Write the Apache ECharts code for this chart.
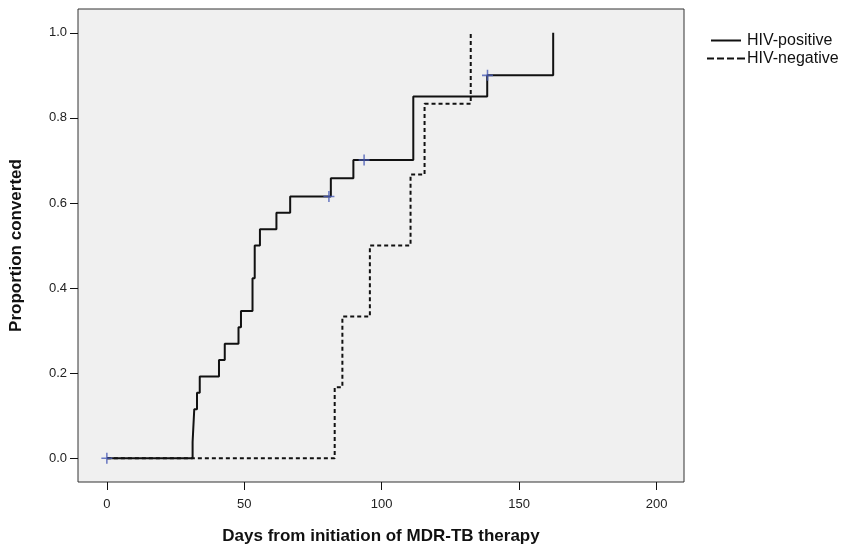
<!DOCTYPE html>
<html>
<head>
<meta charset="utf-8">
<script src="https://cdn.jsdelivr.net/npm/echarts@6/dist/echarts.min.js"></script>
<style>html,body{margin:0;padding:0;background:#fff;}#c{width:865px;height:550px;}</style>
</head>
<body>
<div id="c"></div>
<script>
var posDays = [0, 31.2, 31.8, 32.8, 33.8, 40.8, 42.9, 47.9, 48.8, 53.0, 53.8, 55.7, 61.7, 66.7, 81.5, 89.7, 111.5, 138.4, 162.4];
var posValues = [0, 0.038, 0.115, 0.154, 0.192, 0.231, 0.269, 0.308, 0.346, 0.423, 0.5, 0.538, 0.577, 0.615, 0.658, 0.701, 0.85, 0.9, 1.0];
var negDays = [0, 82.9, 85.7, 95.7, 110.5, 115.6, 132.4];
var negValues = [0, 0.167, 0.333, 0.5, 0.667, 0.833, 1.0];
var censorDays = [0, 80.8, 93.6, 138.5];
var censorValues = [0, 0.615, 0.701, 0.9];
var xTicks = [0, 50, 100, 150, 200];
var yTicks = [0, 0.2, 0.4, 0.6, 0.8, 1.0];
var seriesNames = ['HIV-positive', 'HIV-negative'];

function zip(a, b) { return a.map(function (v, i) { return [v, b[i]]; }); }

var chart = echarts.init(document.getElementById('c'), null, { renderer: 'canvas' });
var font = 'Liberation Sans, Arial, sans-serif';
chart.setOption({
  animation: false,
  textStyle: { fontFamily: font },
  grid: {
    left: 77, right: 181, top: 9, bottom: 63,
    show: true, backgroundColor: '#f0f0f0', borderColor: '#333', borderWidth: 1
  },
  legend: {
    data: [
      { name: seriesNames[0], icon: 'path://M8,0h30v2h-30z' },
      { name: seriesNames[1], icon: 'path://M0,0h7v2h-7z M10,0h7v2h-7z M20,0h7v2h-7z M30,0h8v2h-8z' }
    ],
    orient: 'vertical',
    left: 702, top: 27,
    itemWidth: 38, itemHeight: 2, itemGap: 1,
    itemStyle: { color: '#111' },
    textStyle: { fontSize: 16, color: '#111', fontFamily: font, lineHeight: 17, padding: [0, 0, 0, -3] }
  },
  xAxis: {
    type: 'value', min: -10.5, max: 210,
    name: 'Days from initiation of MDR-TB therapy',
    nameLocation: 'middle', nameGap: 46,
    nameTextStyle: { fontSize: 17, fontWeight: 'bold', color: '#111', fontFamily: font },
    axisLine: { show: false, onZero: false },
    splitLine: { show: false },
    axisTick: { show: true, customValues: xTicks, length: 8, lineStyle: { color: '#111', width: 1 } },
    axisLabel: { customValues: xTicks, fontSize: 13, color: '#222', margin: 16, fontFamily: font }
  },
  yAxis: {
    type: 'value', min: -0.056, max: 1.056,
    name: 'Proportion converted',
    nameLocation: 'middle', nameGap: 53,
    nameTextStyle: { fontSize: 17, fontWeight: 'bold', color: '#111', fontFamily: font },
    axisLine: { show: false, onZero: false },
    splitLine: { show: false },
    axisTick: { show: true, customValues: yTicks, length: 8, lineStyle: { color: '#111', width: 1 } },
    axisLabel: { customValues: yTicks, fontSize: 13, color: '#222', margin: 11, fontFamily: font,
      formatter: function (v) { return v.toFixed(1); } }
  },
  series: [
    {
      name: 'HIV-negative', type: 'line', step: 'end', symbol: 'none', z: 2,
      data: zip(negDays, negValues),
      lineStyle: { color: '#111', width: 2, type: [4, 3] },
      itemStyle: { color: '#111' }
    },
    {
      name: 'HIV-positive', type: 'line', step: 'end', symbol: 'none', z: 3,
      data: zip(posDays, posValues),
      lineStyle: { color: '#111', width: 2, type: 'solid' },
      itemStyle: { color: '#111' }
    },
    {
      name: 'censored', type: 'scatter', z: 4,
      symbol: 'path://M4.3,0h1.4v10h-1.4z M0,4.3h10v1.4h-10z',
      symbolSize: 11,
      itemStyle: { color: '#4a5cb8' },
      data: zip(censorDays, censorValues)
    }
  ]
});
</script>
</body>
</html>
